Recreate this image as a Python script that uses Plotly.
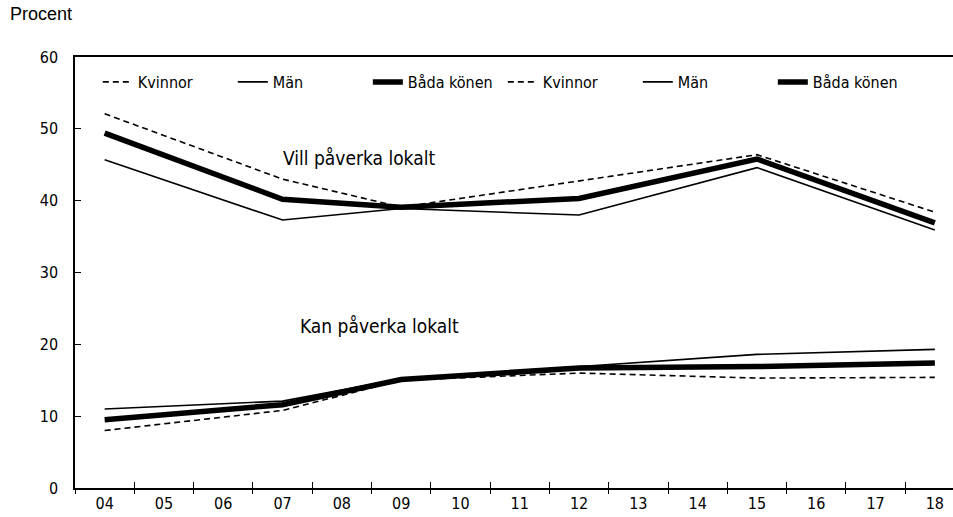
import plotly.graph_objects as go

years = ["04", "05", "06", "07", "08", "09", "10", "11", "12", "13", "14", "15", "16", "17", "18"]
survey_years = ["04", "07", "09", "12", "15", "18"]

# Vill påverka lokalt
vill_kvinnor = [52.1, 43.0, 39.1, 42.7, 46.4, 38.4]
vill_man = [45.7, 37.3, 38.9, 38.0, 44.6, 35.9]
vill_bada = [49.4, 40.2, 39.1, 40.3, 45.8, 36.9]

# Kan påverka lokalt
kan_kvinnor = [8.0, 10.8, 15.0, 16.0, 15.3, 15.4]
kan_man = [11.0, 12.1, 15.2, 16.9, 18.6, 19.3]
kan_bada = [9.5, 11.6, 15.1, 16.7, 16.9, 17.4]

FONT = "DejaVu Sans Condensed, Liberation Sans Narrow, sans-serif"
styles = [("Kvinnor", dict(color="black", width=1.6, dash="6px,4px")),
          ("Män", dict(color="black", width=1.6)),
          ("Båda könen", dict(color="black", width=5.5))]

fig = go.Figure()
for series in [(vill_kvinnor, vill_man, vill_bada), (kan_kvinnor, kan_man, kan_bada)]:
    for vals, (name, line) in zip(series, styles):
        fig.add_trace(go.Scatter(x=survey_years, y=vals, mode="lines", name=name, line=line))

# empty trace on the overlay axis, it only carries the downward half of the ticks
fig.add_trace(go.Scatter(x=years, y=[None] * len(years), xaxis="x2", showlegend=False,
                         hoverinfo="skip", mode="lines"))

xrange = [-0.5, 14.306]
fig.update_layout(
    width=953, height=517,
    margin=dict(l=75, r=0, t=57, b=29),
    plot_bgcolor="white", paper_bgcolor="white",
    font=dict(family=FONT, size=16, color="black"),
    showlegend=True,
    legend=dict(orientation="h", x=0.026, xanchor="left", y=0.942, yanchor="middle",
                entrywidth=90, entrywidthmode="pixels",
                font=dict(family=FONT, size=16), bgcolor="rgba(0,0,0,0)"),
    xaxis=dict(type="category", categoryorder="array", categoryarray=years, range=xrange,
               tickson="boundaries", ticks="inside", ticklen=6, tickcolor="black",
               showline=True, linecolor="black", linewidth=1.5, mirror=True,
               showgrid=False, zeroline=False, tickfont=dict(family=FONT, size=16)),
    xaxis2=dict(type="category", categoryorder="array", categoryarray=years, range=xrange,
                overlaying="x", anchor="y", side="bottom", tickson="boundaries",
                ticks="outside", ticklen=5, tickcolor="black", showticklabels=False,
                showgrid=False, showline=False, zeroline=False),
    yaxis=dict(range=[0, 60], tickvals=[0, 10, 20, 30, 40, 50, 60], ticks="inside",
               ticklen=6, tickcolor="black", showline=True, linecolor="black",
               linewidth=1.5, showgrid=False, zeroline=False, ticklabelstandoff=12,
               tickfont=dict(family=FONT, size=16)),
    annotations=[
        dict(text="Procent", xref="paper", yref="paper", x=-0.076, y=1.1, xanchor="left",
             yanchor="middle", showarrow=False, font=dict(family="Liberation Sans, Arial", size=18)),
        dict(text="Vill påverka lokalt", x=2.97, y=45.9, xanchor="left", yanchor="middle",
             showarrow=False, font=dict(family=FONT, size=19)),
        dict(text="Kan påverka lokalt", x=3.26, y=22.6, xanchor="left", yanchor="middle",
             showarrow=False, font=dict(family=FONT, size=19)),
    ],
)

fig.write_html("out.html", config={"displayModeBar": False},
               post_script="document.body.style.margin='0';")
